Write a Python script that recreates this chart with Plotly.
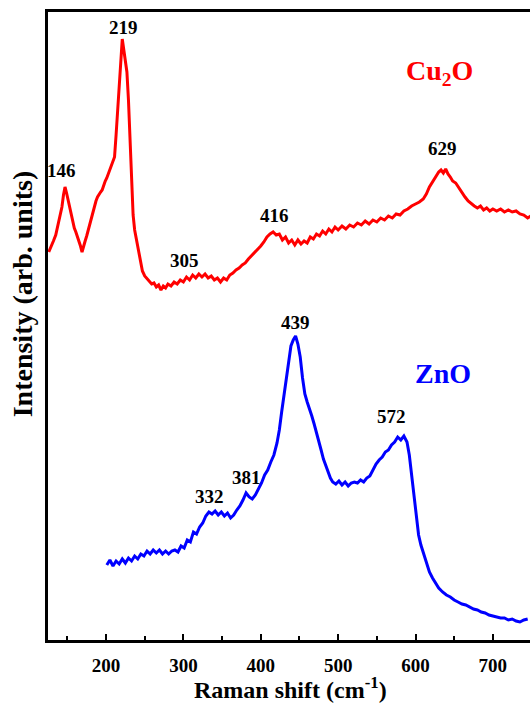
import plotly.graph_objects as go

# Cu2O Raman spectrum (wavenumber, intensity in arb. units)
cu_x = [126, 129, 132, 135, 137, 139, 141, 143, 145, 147, 149, 151, 153, 155, 157, 159, 161, 163, 165, 167,
        169, 171, 173, 175, 177, 179, 181, 183, 185, 187, 189, 191, 193, 195, 197, 199, 201, 203, 205, 207,
        209, 211, 213, 215, 217, 219, 221, 223, 225, 227, 229, 231, 233, 235, 237, 241, 244, 247, 250, 253,
        256, 259, 262, 265, 268, 271, 274, 277, 280, 284, 288, 292, 296, 300, 304, 308, 312, 316, 320, 324,
        328, 332, 336, 340, 344, 348, 352, 356, 360, 364, 368, 372, 376, 380, 384, 388, 392, 396, 400, 404,
        408, 412, 416, 420, 424, 428, 432, 436, 440, 444, 448, 452, 456, 460, 464, 468, 472, 476, 480, 484,
        488, 492, 496, 500, 505, 510, 515, 520, 525, 530, 535, 540, 545, 550, 555, 560, 565, 570, 575, 580,
        585, 590, 595, 600, 605, 610, 614, 618, 622, 626, 630, 633, 636, 639, 642, 645, 648, 652, 656, 660,
        664, 668, 672, 676, 680, 684, 688, 692, 696, 700, 705, 710, 715, 720, 725, 730, 735, 740, 745, 749]
cu_y = [388, 393, 399, 405, 412, 418, 426, 433, 445, 453, 447, 440, 433, 424, 418, 412, 408, 404, 398, 394,
        388, 395, 399, 404, 410, 415, 422, 428, 433, 439, 443, 446, 448, 450, 455, 459, 462, 466, 470, 474,
        478, 483, 505, 530, 555, 580, 601, 590, 580, 568, 540, 505, 455, 425, 410, 392, 380, 369, 364, 361,
        359, 356, 357, 353, 355, 350, 354, 352, 356, 354, 358, 356, 360, 358, 363, 360, 365, 362, 366, 363,
        366, 362, 364, 360, 362, 358, 362, 360, 365, 367, 370, 372, 375, 377, 381, 384, 388, 391, 394, 398,
        403, 406, 408, 405, 406, 400, 403, 397, 400, 395, 400, 396, 399, 397, 403, 401, 406, 404, 409, 406,
        411, 408, 413, 410, 414, 411, 415, 413, 417, 415, 419, 416, 420, 418, 422, 420, 424, 422, 426, 425,
        429, 431, 434, 436, 438, 441, 446, 453, 458, 464, 468, 470, 467, 471, 466, 463, 459, 457, 452, 448,
        443, 439, 436, 434, 432, 434, 430, 432, 429, 431, 429, 431, 428, 430, 428, 429, 426, 425, 422, 424]

# ZnO Raman spectrum
zn_x = [201, 205, 209, 213, 217, 221, 225, 229, 233, 237, 241, 245, 249, 253, 257, 261, 265, 269, 273, 277,
        281, 285, 289, 293, 297, 301, 305, 309, 313, 317, 321, 325, 329, 333, 337, 341, 345, 349, 353, 357,
        361, 365, 369, 373, 377, 381, 385, 389, 393, 397, 401, 405, 409, 413, 417, 421, 424, 427, 430, 433,
        436, 439, 442, 445, 448, 451, 454, 457, 460, 463, 466, 469, 472, 475, 478, 481, 484, 487, 490, 493,
        497, 501, 505, 509, 513, 517, 521, 525, 529, 533, 537, 541, 545, 549, 553, 557, 561, 565, 569, 573,
        577, 581, 585, 589, 592, 595, 598, 601, 604, 607, 610, 614, 618, 622, 626, 630, 635, 640, 645, 650,
        655, 660, 665, 670, 675, 680, 685, 690, 695, 700, 705, 710, 715, 720, 725, 730, 735, 740, 745]
zn_y = [75, 80, 74, 79, 76, 81, 77, 82, 79, 84, 81, 86, 84, 89, 86, 90, 87, 90, 86, 89,
        86, 89, 90, 88, 94, 92, 100, 98, 108, 106, 113, 117, 124, 128, 126, 129, 125, 128, 124, 127,
        122, 125, 130, 134, 140, 147, 143, 141, 145, 151, 157, 165, 170, 178, 185, 197, 210, 228, 245, 263,
        280, 294, 300, 304, 296, 283, 262, 246, 238, 232, 224, 216, 208, 199, 190, 181, 174, 167, 162, 158,
        156, 159, 155, 158, 154, 157, 158, 157, 160, 158, 162, 164, 170, 176, 180, 183, 188, 190, 195, 198,
        203, 200, 204, 198, 185, 165, 140, 120, 105, 95, 87, 79, 68, 62, 57, 52, 48, 45, 43, 40,
        38, 36, 35, 33, 31, 30, 28, 27, 25, 24, 23, 22, 22, 20, 21, 19, 18, 20, 21]

# Peak labels
peak_text = ["146", "219", "305", "416", "629", "332", "381", "439", "572"]
peak_x = [143, 222, 302, 418, 635, 334, 381, 445, 569]
peak_y = [470, 613, 380, 425, 492, 144, 163, 318, 224]

# Sample labels
sample_text = ["Cu<sub>2</sub>O", "ZnO"]
sample_x = [631, 635]
sample_y = [568, 267]
sample_color = ["#FF0000", "#0000FF"]

x_title = "Raman shift (cm<sup>-1</sup>)"
y_title = "Intensity (arb. units)"

SERIF = "Liberation Serif, Times New Roman, serif"

fig = go.Figure()
fig.add_trace(go.Scatter(x=cu_x, y=cu_y, mode="lines",
                         line=dict(color="#FF0000", width=3), showlegend=False))
fig.add_trace(go.Scatter(x=zn_x, y=zn_y, mode="lines",
                         line=dict(color="#0000FF", width=3), showlegend=False))

for t, x, y in zip(peak_text, peak_x, peak_y):
    fig.add_annotation(x=x, y=y, text=t, showarrow=False,
                       font=dict(family=SERIF, size=19, color="black", weight="bold"))
for t, x, y, c in zip(sample_text, sample_x, sample_y, sample_color):
    fig.add_annotation(x=x, y=y, text=t, showarrow=False,
                       font=dict(family=SERIF, size=28, color=c, weight="bold"))

# axis titles as paper annotations
fig.add_annotation(xref="paper", yref="paper", x=0.504, y=-0.076, text=x_title,
                   showarrow=False, xanchor="center", yanchor="middle",
                   font=dict(family=SERIF, size=24, color="black", weight="bold"))
fig.add_annotation(xref="paper", yref="paper", x=-0.054, y=0.552, text=y_title,
                   showarrow=False, xanchor="center", yanchor="middle", textangle=-90,
                   font=dict(family=SERIF, size=28, color="black", weight="bold"))

fig.update_layout(
    width=530, height=703,
    margin=dict(l=48, r=0, t=12, b=63, autoexpand=False),
    paper_bgcolor="white", plot_bgcolor="white",
    font=dict(family=SERIF, color="black"),
    xaxis=dict(
        range=[125, 748], automargin=False,
        tickvals=[200, 300, 400, 500, 600, 700],
        ticks="inside", ticklen=6, tickwidth=2, tickcolor="black",
        minor=dict(dtick=50, tick0=150, ticks="inside", ticklen=4, tickwidth=2, tickcolor="black"),
        showline=True, linewidth=2.5, linecolor="black", mirror=True,
        showgrid=False, zeroline=False,
        tickfont=dict(family=SERIF, size=19, color="black", weight="bold"),
        ticklabelstandoff=6,
    ),
    yaxis=dict(
        range=[0, 628], automargin=False,
        showticklabels=False, ticks="",
        showline=True, linewidth=2.5, linecolor="black", mirror=False,
        showgrid=False, zeroline=False,
    ),
)

fig.write_html("out.html", config={"displayModeBar": False},
               post_script="document.body.style.margin='0';document.body.style.overflow='hidden';")
